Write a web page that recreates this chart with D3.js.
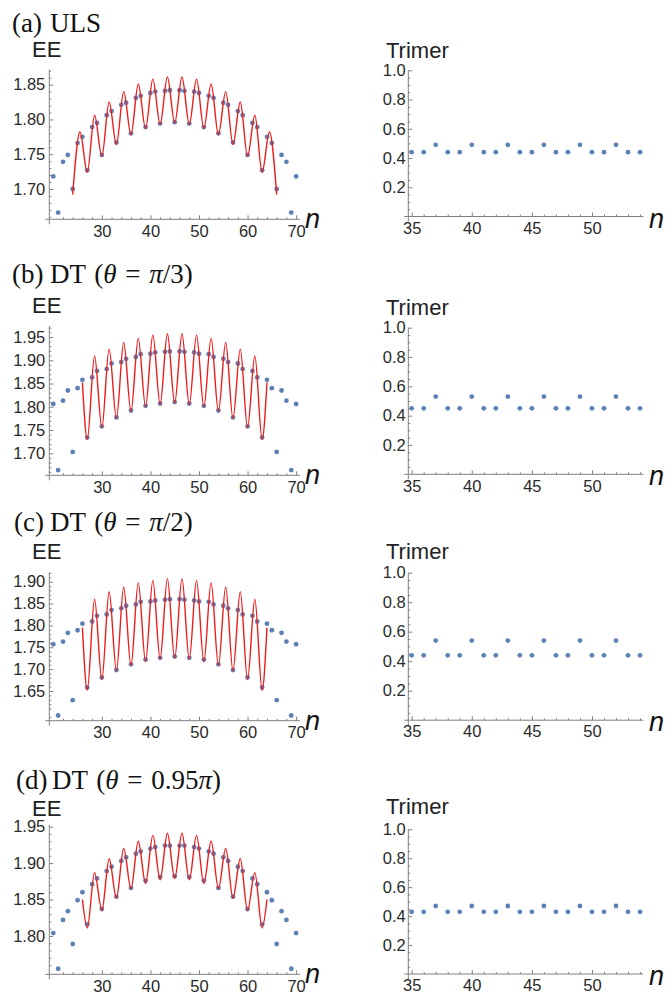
<!DOCTYPE html>
<html>
<head>
<meta charset="utf-8">
<script src="https://d3js.org/d3.v7.min.js"></script>
<style>
    body { margin: 0; background: #fff; }
    .axis text { font-family: "Liberation Sans", Arial, sans-serif; font-size: 16.5px; fill: #2a2a2a; }
    .axis line, .axis-line { stroke: #808080; stroke-width: 1; }
    .title { font-family: "Liberation Serif", "Times New Roman", serif; font-size: 27px; fill: #111; white-space: pre; word-spacing: 2px; }
    .graph-label { font-family: "Liberation Sans", Arial, sans-serif; font-size: 22px; fill: #222; }
    .n-label { font-family: "Liberation Sans", Arial, sans-serif; font-size: 27px; font-style: italic; fill: #111; }
</style>
</head>
<body>
<div id="chart"></div>
<script>
// ---- data ----
var nEE = d3.range(20, 71);

var eeA = [1.718, 1.666, 1.739, 1.749, 1.700, 1.766, 1.775, 1.727, 1.789, 1.795,
           1.749, 1.806, 1.812, 1.767, 1.821, 1.824, 1.780, 1.831, 1.834, 1.789,
           1.838, 1.840, 1.794, 1.841, 1.842, 1.796, 1.842, 1.841, 1.794, 1.840,
           1.838, 1.789, 1.834, 1.831, 1.780, 1.824, 1.821, 1.767, 1.812, 1.806,
           1.749, 1.795, 1.789, 1.727, 1.775, 1.766, 1.700, 1.749, 1.739, 1.666, 1.718];

var eeB = [1.806, 1.664, 1.813, 1.835, 1.703, 1.840, 1.858, 1.734, 1.863, 1.877,
           1.758, 1.881, 1.893, 1.777, 1.896, 1.903, 1.792, 1.907, 1.913, 1.802,
           1.914, 1.917, 1.807, 1.918, 1.919, 1.810, 1.919, 1.918, 1.807, 1.917,
           1.914, 1.802, 1.913, 1.907, 1.792, 1.903, 1.896, 1.777, 1.893, 1.881,
           1.758, 1.877, 1.863, 1.734, 1.858, 1.840, 1.703, 1.835, 1.813, 1.664, 1.806];

var eeC = [1.757, 1.594, 1.763, 1.783, 1.629, 1.789, 1.804, 1.658, 1.809, 1.822,
           1.681, 1.825, 1.835, 1.698, 1.839, 1.845, 1.711, 1.848, 1.854, 1.722,
           1.855, 1.857, 1.726, 1.859, 1.860, 1.729, 1.860, 1.859, 1.726, 1.857,
           1.855, 1.722, 1.854, 1.848, 1.711, 1.845, 1.839, 1.698, 1.835, 1.825,
           1.681, 1.822, 1.809, 1.658, 1.804, 1.789, 1.629, 1.783, 1.763, 1.594, 1.757];

var eeD = [1.804, 1.755, 1.822, 1.834, 1.789, 1.849, 1.860, 1.816, 1.871, 1.879,
           1.837, 1.889, 1.895, 1.854, 1.903, 1.908, 1.866, 1.913, 1.916, 1.876,
           1.920, 1.922, 1.881, 1.924, 1.924, 1.882, 1.924, 1.924, 1.881, 1.922,
           1.920, 1.876, 1.916, 1.913, 1.866, 1.908, 1.903, 1.854, 1.895, 1.889,
           1.837, 1.879, 1.871, 1.816, 1.860, 1.849, 1.789, 1.834, 1.822, 1.755, 1.804];

// red fit curve, sampled at its turning points
var fitNA = [24, 25.5, 27, 28.5, 30, 31.5, 33, 34.5, 36, 37.5, 39, 40.5, 42, 43.5, 45,
             46.5, 48, 49.5, 51, 52.5, 54, 55.5, 57, 58.5, 60, 61.5, 63, 64.5, 66];
var fitA = [1.692, 1.782, 1.724, 1.806, 1.747, 1.825, 1.764, 1.840, 1.778, 1.851, 1.787, 1.858, 1.793, 1.861, 1.795,
            1.861, 1.793, 1.858, 1.787, 1.851, 1.778, 1.840, 1.764, 1.825, 1.747, 1.806, 1.724, 1.782, 1.692];

var fitN = [26, 27, 28.5, 30, 31.5, 33, 34.5, 36, 37.5, 39, 40.5, 42, 43.5, 45,
            46.5, 48, 49.5, 51, 52.5, 54, 55.5, 57, 58.5, 60, 61.5, 63, 64];
var fitB = [1.852, 1.730, 1.909, 1.755, 1.924, 1.775, 1.938, 1.790, 1.947, 1.800, 1.954, 1.805, 1.957, 1.808,
            1.957, 1.805, 1.954, 1.800, 1.947, 1.790, 1.938, 1.775, 1.924, 1.755, 1.909, 1.730, 1.852];
var fitC = [1.795, 1.652, 1.860, 1.676, 1.877, 1.696, 1.888, 1.708, 1.898, 1.717, 1.903, 1.723, 1.907, 1.725,
            1.907, 1.723, 1.903, 1.717, 1.898, 1.708, 1.888, 1.696, 1.877, 1.676, 1.860, 1.652, 1.795];
var fitD = [1.850, 1.811, 1.887, 1.835, 1.906, 1.852, 1.920, 1.865, 1.930, 1.872, 1.938, 1.877, 1.941, 1.879,
            1.941, 1.877, 1.938, 1.872, 1.930, 1.865, 1.920, 1.852, 1.906, 1.835, 1.887, 1.811, 1.850];

var nTrimer = d3.range(35, 55);
var trimerA = [0.44, 0.44, 0.49, 0.44, 0.44, 0.49, 0.44, 0.44, 0.49, 0.44,
               0.44, 0.49, 0.44, 0.44, 0.49, 0.44, 0.44, 0.49, 0.44, 0.44];
var trimerB = [0.45, 0.45, 0.53, 0.45, 0.45, 0.53, 0.45, 0.45, 0.53, 0.45,
               0.45, 0.53, 0.45, 0.45, 0.53, 0.45, 0.45, 0.53, 0.45, 0.45];
var trimerC = [0.44, 0.44, 0.54, 0.44, 0.44, 0.54, 0.44, 0.44, 0.54, 0.44,
               0.44, 0.54, 0.44, 0.44, 0.54, 0.44, 0.44, 0.54, 0.44, 0.44];
var trimerD = [0.43, 0.43, 0.47, 0.43, 0.43, 0.47, 0.43, 0.43, 0.47, 0.43,
               0.43, 0.47, 0.43, 0.43, 0.47, 0.43, 0.43, 0.47, 0.43, 0.43];

// tick labels
var eeXTicks = [30, 40, 50, 60, 70];
var eeYTicksA = [1.70, 1.75, 1.80, 1.85];
var eeYTicksB = [1.70, 1.75, 1.80, 1.85, 1.90, 1.95];
var eeYTicksC = [1.65, 1.70, 1.75, 1.80, 1.85, 1.90];
var eeYTicksD = [1.80, 1.85, 1.90, 1.95];
var trimerXTicks = [35, 40, 45, 50];
var trimerYTicks = [0.2, 0.4, 0.6, 0.8, 1.0];

// panel titles: [text, italic?]
var titleTags = ["(a)", "(b)", "(c)", "(d)"];
var titleModels = [
    [["ULS", false]],
    [["DT (", false], ["\u03b8", true], [" = ", false], ["\u03c0", true], ["/3)", false]],
    [["DT (", false], ["\u03b8", true], [" = ", false], ["\u03c0", true], ["/2)", false]],
    [["DT (", false], ["\u03b8", true], [" = 0.95", false], ["\u03c0", true], [")", false]]
];

var rows = [
    {ee: eeA, fitN: fitNA, fit: fitA, trimer: trimerA, yTicks: eeYTicksA},
    {ee: eeB, fitN: fitN, fit: fitB, trimer: trimerB, yTicks: eeYTicksB},
    {ee: eeC, fitN: fitN, fit: fitC, trimer: trimerC, yTicks: eeYTicksC},
    {ee: eeD, fitN: fitN, fit: fitD, trimer: trimerD, yTicks: eeYTicksD}
];

// ---- layout (pixels) ----
var layout = [
    {tagX: 12, modelX: 50, titleY: 32,  eeLabelY: 57,  trLabelY: 58,  eeAxisY: 219.3, eeTopY: 69.3,  eeDomain: [1.6564, 1.8721], trAxisY: 216.5, trTopY: 70.3},
    {tagX: 12, modelX: 50, titleY: 283, eeLabelY: 313, trLabelY: 315, eeAxisY: 475.3, eeTopY: 326,   eeDomain: [1.6527, 1.9736], trAxisY: 474.3, trTopY: 327.7},
    {tagX: 14, modelX: 50, titleY: 531, eeLabelY: 559, trLabelY: 559, eeAxisY: 720.7, eeTopY: 572.3, eeDomain: [1.5821, 1.9215], trAxisY: 720.2, trTopY: 572.7},
    {tagX: 16, modelX: 52, titleY: 789, eeLabelY: 816, trLabelY: 814, eeAxisY: 974.3, eeTopY: 825,   eeDomain: [1.7474, 1.9523], trAxisY: 974,   trTopY: 829.3}
];

var dotColor = "#5e81b5";

var svg = d3.select("#chart")
    .append("svg")
        .attr("width", 672)
        .attr("height", 992);

// x scales are shared by every row
var xEE = d3.scaleLinear()
    .domain([19.18, 70.8])
    .range([49.3, 300]);
var xTr = d3.scaleLinear()
    .domain([34.72, 54.28])
    .range([408.3, 643.4]);

function minorTicks(lo, hi, step, skip) {
    return d3.range(Math.ceil(lo / step - 1e-6), Math.floor(hi / step + 1e-6) + 1)
        .map(function(k) { return +(k * step).toFixed(4); })
        .filter(function(v) { return Math.abs(v / skip - Math.round(v / skip)) > 1e-6; });
}

function drawAxes(g, x, y, xTicks, yTicks, xMinor, yMinor, xFmt, yFmt, yPad) {
    var x0 = x.range()[0], x1 = x.range()[1];
    var yb = y.range()[0], yt = y.range()[1];

    // axis lines
    g.append("line").attr("class", "axis-line")
        .attr("x1", x0 - 4).attr("x2", x1)
        .attr("y1", yb).attr("y2", yb);
    g.append("line").attr("class", "axis-line")
        .attr("x1", x0).attr("x2", x0)
        .attr("y1", yb + 5).attr("y2", yt);

    // X axis ticks
    g.append("g")
        .attr("class", "axis")
        .attr("transform", "translate(0," + yb + ")")
        .call(d3.axisBottom(x).tickValues(xMinor).tickSize(-2).tickFormat(""))
        .call(function(s) { s.select(".domain").remove(); });
    g.append("g")
        .attr("class", "axis")
        .attr("transform", "translate(0," + yb + ")")
        .call(d3.axisBottom(x).tickValues(xTicks).tickSize(-4).tickPadding(5.5).tickFormat(xFmt))
        .call(function(s) { s.select(".domain").remove(); });

    // Y axis ticks
    g.append("g")
        .attr("class", "axis")
        .attr("transform", "translate(" + x0 + ",0)")
        .call(d3.axisLeft(y).tickValues(yMinor).tickSize(-2).tickFormat(""))
        .call(function(s) { s.select(".domain").remove(); });
    g.append("g")
        .attr("class", "axis")
        .attr("transform", "translate(" + x0 + ",0)")
        .call(d3.axisLeft(y).tickValues(yTicks).tickSize(-4).tickPadding(yPad).tickFormat(yFmt))
        .call(function(s) { s.select(".domain").remove(); });
}

rows.forEach(function(row, i) {
    var lay = layout[i];

    // Title
    var title = svg.append("text")
        .attr("class", "title")
        .attr("y", lay.titleY);
    title.append("tspan")
        .attr("x", lay.tagX)
        .text(titleTags[i]);
    titleModels[i].forEach(function(part, j) {
        var t = title.append("tspan")
            .style("font-style", part[1] ? "italic" : "normal")
            .text(part[0]);
        if (j == 0) t.attr("x", lay.modelX);
    });

    // ---------- EE panel ----------
    var y = d3.scaleLinear()
        .domain(lay.eeDomain)
        .range([lay.eeAxisY, lay.eeTopY]);

    var g = svg.append("g");
    drawAxes(g, xEE, y, eeXTicks, row.yTicks,
        minorTicks(20, 70, 2, 10), minorTicks(lay.eeDomain[0], lay.eeDomain[1], 0.01, 0.05),
        d3.format("d"), d3.format(".2f"), 4);

    g.append("text")
        .attr("class", "graph-label")
        .attr("x", 32)
        .attr("y", lay.eeLabelY)
        .text("EE");
    g.append("text")
        .attr("class", "n-label")
        .attr("x", 305)
        .attr("y", lay.eeAxisY + 9)
        .text("n");

    // dots
    g.append("g")
        .selectAll("circle")
        .data(nEE)
        .enter()
        .append("circle")
            .attr("cx", function(d) { return xEE(d); })
            .attr("cy", function(d, k) { return y(row.ee[k]); })
            .attr("r", 2.4)
            .style("fill", dotColor);

    // fit curve
    var line = d3.line()
        .x(function(d) { return xEE(d[0]); })
        .y(function(d) { return y(d[1]); })
        .curve(d3.curveMonotoneX);
    g.append("path")
        .datum(row.fitN.map(function(n, k) { return [n, row.fit[k]]; }))
        .attr("d", line)
        .attr("fill", "none")
        .attr("stroke", "#ee1c1c")
        .attr("stroke-width", 1.4);

    // ---------- Trimer panel ----------
    var yT = d3.scaleLinear()
        .domain([0, 1])
        .range([lay.trAxisY, lay.trTopY]);

    var gt = svg.append("g");
    drawAxes(gt, xTr, yT, trimerXTicks, trimerYTicks,
        minorTicks(35, 54, 1, 5), minorTicks(0.05, 1, 0.05, 0.2),
        d3.format("d"), d3.format(".1f"), 2.5);

    gt.append("text")
        .attr("class", "graph-label")
        .attr("x", 386)
        .attr("y", lay.trLabelY)
        .text("Trimer");
    gt.append("text")
        .attr("class", "n-label")
        .attr("x", 649)
        .attr("y", lay.trAxisY + 11)
        .text("n");

    gt.append("g")
        .selectAll("circle")
        .data(nTrimer)
        .enter()
        .append("circle")
            .attr("cx", function(d) { return xTr(d); })
            .attr("cy", function(d, k) { return yT(row.trimer[k]); })
            .attr("r", 2.4)
            .style("fill", dotColor);
});
</script>
</body>
</html>
